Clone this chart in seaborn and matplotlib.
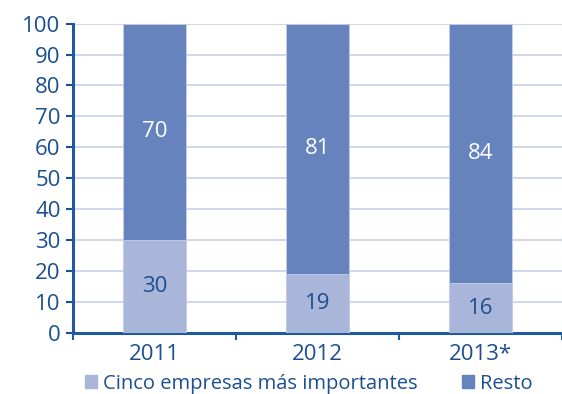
import numpy as np
import pandas as pd
import seaborn as sns
import matplotlib.pyplot as plt

years = ['2011', '2012', '2013*']
cinco = [30, 19, 16]
resto = [70, 81, 84]
series_names = ['Cinco empresas más importantes', 'Resto']
yticks = list(range(0, 101, 10))

col_light = '#A9B6DA'
col_dark = '#6683BD'
txt = '#1B4F91'
axis_col = '#1F5AA0'
grid_col = '#C9D1E8'

sns.set_theme(style='white')
plt.rcParams['font.family'] = ['Open Sans', 'DejaVu Sans']

df = pd.DataFrame({'year': years, 'cinco': cinco, 'resto': resto})
df['total'] = df['cinco'] + df['resto']

fig, ax = plt.subplots(figsize=(5.62, 3.94), dpi=100)
fig.subplots_adjust(left=0.13, right=1.0, top=0.94, bottom=0.155)

# barra total (oscura) y encima el segmento inferior (claro)
sns.barplot(data=df, x='year', y='total', color=col_dark, width=0.39,
            saturation=1, ax=ax, zorder=3, edgecolor='#C5CEE8', linewidth=0.6)
sns.barplot(data=df, x='year', y='cinco', color=col_light, width=0.39,
            saturation=1, ax=ax, zorder=4, edgecolor='#C5CEE8', linewidth=0.6)

for i, (c, r) in enumerate(zip(cinco, resto)):
    ax.text(i, c / 2, str(c), ha='center', va='center', color=txt,
            fontsize=16, zorder=5)
    ax.text(i, c + r / 2, str(r), ha='center', va='center', color='white',
            fontsize=16, zorder=5)

ax.set_xlim(-0.5, 2.5)
ax.set_ylim(0, 100)
ax.set_yticks(yticks)
ax.yaxis.grid(True, color=grid_col, linewidth=1.2, zorder=0)
ax.set_axisbelow(True)
ax.set_xlabel('')
ax.set_ylabel('')

for s in ['top', 'right']:
    ax.spines[s].set_visible(False)
for s in ['left', 'bottom']:
    ax.spines[s].set_color(axis_col)
    ax.spines[s].set_linewidth(2.2)

ax.tick_params(axis='y', colors=txt, labelsize=16, length=5, width=1.5,
               direction='out', left=True, pad=4)
ax.tick_params(axis='x', colors=txt, labelsize=16, length=0, pad=8)
ax.set_xticks([-0.5, 0.5, 1.5, 2.5], minor=True)
ax.tick_params(axis='x', which='minor', length=5, width=1.5, color=axis_col,
               direction='out', bottom=True)
for lab in ax.get_yticklabels():
    lab.set_color(txt)

handles = [plt.Rectangle((0, 0), 1, 1, color=col_light),
           plt.Rectangle((0, 0), 1, 1, color=col_dark)]
leg = fig.legend(handles, series_names, loc='lower center', ncol=2,
                 bbox_to_anchor=(0.55, -0.045), frameon=False, fontsize=14.5,
                 handlelength=0.6, handleheight=0.6, handletextpad=0.3,
                 columnspacing=2.2)
for t in leg.get_texts():
    t.set_color(txt)

fig.savefig('out.png', dpi=100)
